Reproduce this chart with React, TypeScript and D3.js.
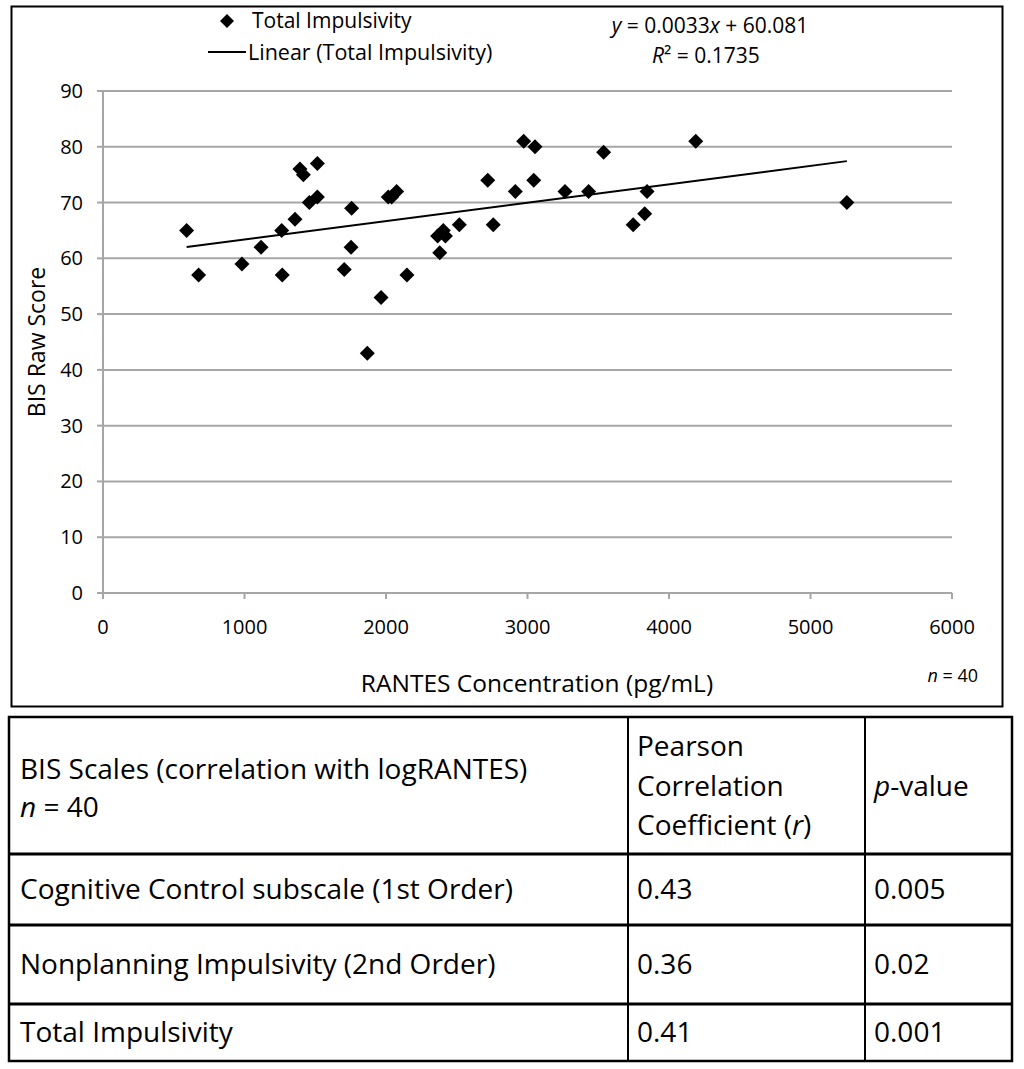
import * as d3 from 'd3';

const rantes = [
  591, 676, 982, 1117, 1263, 1267, 1357, 1392, 1416, 1458,
  1515, 1515, 1757, 1753, 1705, 1965, 1868, 2148, 2016, 2040,
  2075, 2365, 2380, 2405, 2420, 2518, 2719, 2758, 2914, 2973,
  3053, 3044, 3265, 3432, 3538, 3845, 3828, 3747, 4189, 5257,
];
const bisScore = [
  65, 57, 59, 62, 65, 57, 67, 76, 75, 70,
  71, 77, 69, 62, 58, 53, 43, 57, 71, 71,
  72, 64, 61, 65, 64, 66, 74, 66, 72, 81,
  80, 74, 72, 72, 79, 72, 68, 66, 81, 70,
];
const slope = 0.0033;
const intercept = 60.081;
const rSquared = '0.1735';

const xTicks = [0, 1000, 2000, 3000, 4000, 5000, 6000];
const yTicks = [0, 10, 20, 30, 40, 50, 60, 70, 80, 90];

const tableScales = [
  'Cognitive Control subscale (1st Order)',
  'Nonplanning Impulsivity (2nd Order)',
  'Total Impulsivity',
];
const tableR = ['0.43', '0.36', '0.41'];
const tableP = ['0.005', '0.02', '0.001'];

const font = '"Open Sans", Lato, sans-serif';
const gridColor = '#a6a6a6';

export default function App() {
  const x = d3.scaleLinear().domain([0, 6000]).range([103, 952]);
  const y = d3.scaleLinear().domain([0, 90]).range([593, 91]);

  const points = rantes.map((v, i) => ({ x: v, y: bisScore[i] }));
  const xMin = d3.min(rantes) ?? 0;
  const xMax = d3.max(rantes) ?? 0;
  const trend = d3
    .line<number>()
    .x((d) => x(d))
    .y((d) => y(slope * d + intercept));

  const diamond = (cx: number, cy: number, r: number) =>
    `M${cx},${cy - r}L${cx + r},${cy}L${cx},${cy + r}L${cx - r},${cy}Z`;

  // table layout
  const colX = [9, 628, 865, 1012];
  const rowY = [717, 854, 925, 1004, 1061];

  return (
    <svg
      width={1024}
      height={1069}
      style={{ position: 'absolute', left: 0, top: 0, background: '#fff' }}
      fontFamily={font}
    >
      <rect x={0} y={0} width={1024} height={1069} fill="#fff" />
      {/* chart frame */}
      <rect x={11.5} y={6.5} width={991} height={700} fill="none" stroke="#000" strokeWidth={2} />

      {/* gridlines */}
      {yTicks.map((t) => (
        <line key={`g${t}`} x1={x(0)} x2={x(6000)} y1={y(t)} y2={y(t)} stroke={gridColor} strokeWidth={2} />
      ))}
      {/* y axis */}
      <line x1={x(0)} x2={x(0)} y1={y(90)} y2={y(0)} stroke={gridColor} strokeWidth={2} />
      {yTicks.map((t) => (
        <g key={`y${t}`}>
          <line x1={x(0) - 6} x2={x(0)} y1={y(t)} y2={y(t)} stroke={gridColor} strokeWidth={2} />
          <text x={83} y={y(t)} dy="0.35em" textAnchor="end" fontSize={20} fill="#000">
            {t}
          </text>
        </g>
      ))}
      {/* x axis ticks */}
      {xTicks.map((t) => (
        <g key={`x${t}`}>
          <line x1={x(t)} x2={x(t)} y1={y(0)} y2={y(0) + 6} stroke={gridColor} strokeWidth={2} />
          <text x={x(t)} y={627} dy="0.35em" textAnchor="middle" fontSize={20} fill="#000">
            {t}
          </text>
        </g>
      ))}

      {/* axis titles */}
      <text
        transform={`translate(37,${(y(0) + y(90)) / 2}) rotate(-90)`}
        dy="0.35em"
        textAnchor="middle"
        fontSize={23}
      >
        BIS Raw Score
      </text>
      <text x={537} y={683} dy="0.35em" textAnchor="middle" fontSize={24.5}>
        RANTES Concentration (pg/mL)
      </text>
      <text x={978} y={676} dy="0.35em" textAnchor="end" fontSize={18}>
        <tspan fontStyle="italic">n</tspan> = 40
      </text>

      {/* trend line */}
      <path d={trend([xMin, xMax]) ?? ''} fill="none" stroke="#000" strokeWidth={2} />

      {/* points */}
      {points.map((p, i) => (
        <path key={i} d={diamond(x(p.x), y(p.y), 7.5)} fill="#000" />
      ))}

      {/* legend */}
      <path d={diamond(227, 21, 7)} fill="#000" />
      <text x={252} y={21} dy="0.35em" fontSize={21}>
        Total Impulsivity
      </text>
      <line x1={208} x2={246} y1={52} y2={52} stroke="#000" strokeWidth={2} />
      <text x={248} y={52} dy="0.35em" fontSize={21.5}>
        Linear (Total Impulsivity)
      </text>
      <text x={710} y={26} dy="0.35em" textAnchor="middle" fontSize={21}>
        <tspan fontStyle="italic">y</tspan> = {slope.toFixed(4)}
        <tspan fontStyle="italic">x</tspan> + {intercept.toFixed(3)}
      </text>
      <text x={706} y={56} dy="0.35em" textAnchor="middle" fontSize={21}>
        <tspan fontStyle="italic">R</tspan>² = {rSquared}
      </text>

      {/* table */}
      <g stroke="#000" fill="none">
        <rect x={colX[0]} y={rowY[0]} width={colX[3] - colX[0]} height={rowY[4] - rowY[0]} strokeWidth={2.5} />
        {colX.slice(1, 3).map((cx) => (
          <line key={cx} x1={cx} x2={cx} y1={rowY[0]} y2={rowY[4]} strokeWidth={2} />
        ))}
        {rowY.slice(1, 4).map((ry) => (
          <line key={ry} x1={colX[0]} x2={colX[3]} y1={ry} y2={ry} strokeWidth={3} />
        ))}
      </g>
      <g fontSize={28} fill="#000">
        <text x={20} y={769} dy="0.35em">BIS Scales (correlation with logRANTES)</text>
        <text x={20} y={807} dy="0.35em">
          <tspan fontStyle="italic">n</tspan> = 40
        </text>
        <text x={637} y={746} dy="0.35em">Pearson</text>
        <text x={637} y={786} dy="0.35em">Correlation</text>
        <text x={637} y={825} dy="0.35em">
          Coefficient (<tspan fontStyle="italic">r</tspan>)
        </text>
        <text x={874} y={786} dy="0.35em">
          <tspan fontStyle="italic">p</tspan>-value
        </text>
        {tableScales.map((s, i) => {
          const cy = (rowY[i + 1] + rowY[i + 2]) / 2;
          return (
            <g key={s}>
              <text x={20} y={cy} dy="0.35em">{s}</text>
              <text x={637} y={cy} dy="0.35em">{tableR[i]}</text>
              <text x={874} y={cy} dy="0.35em">{tableP[i]}</text>
            </g>
          );
        })}
      </g>
    </svg>
  );
}
